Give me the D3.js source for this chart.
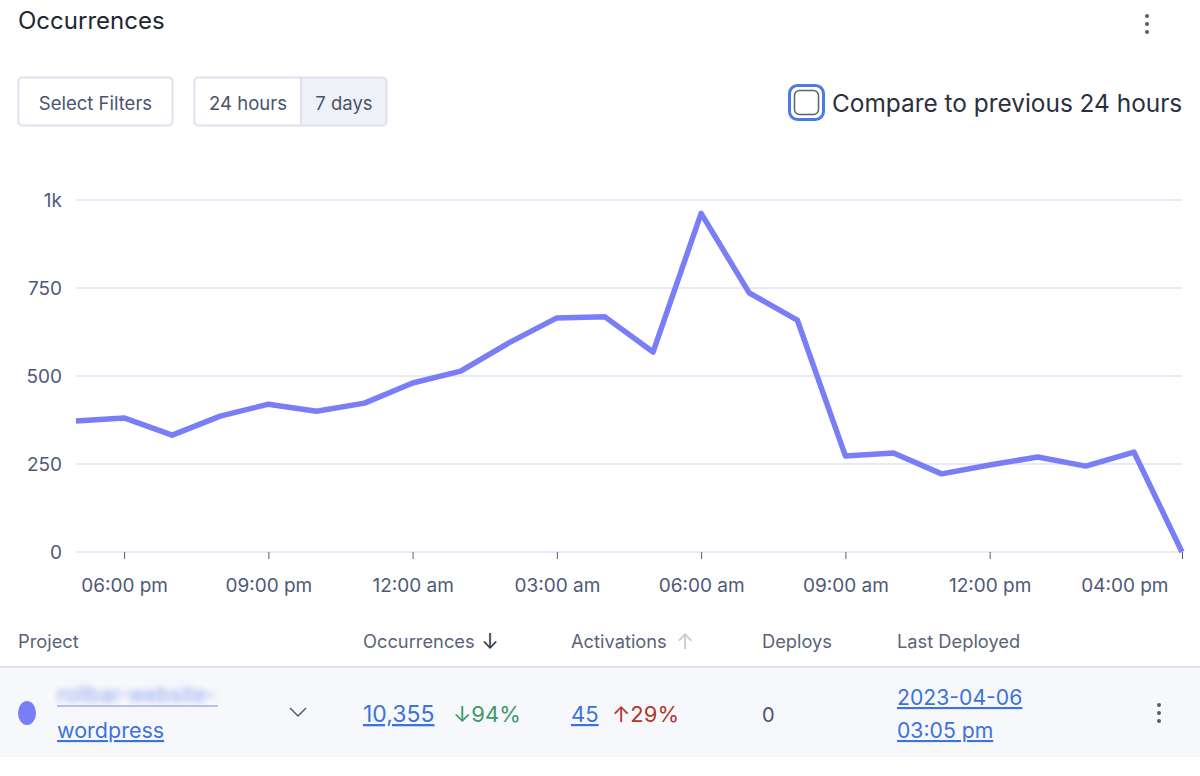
<!DOCTYPE html>
<html>
<head>
<meta charset="utf-8">
<script src="https://cdn.jsdelivr.net/npm/d3@7"></script>
<style>
  html, body { margin: 0; padding: 0; background: #fff; }
  svg { display: block; font-family: Inter, "Noto Sans", sans-serif; }
</style>
</head>
<body>
<div id="chart"></div>
<script>
// hourly occurrences, 5 pm -> 4 pm next day
var hours = d3.range(0, 24).map(function (i) { return new Date(2023, 3, 6, 17 + i); });
var occurrences = [372, 381, 332, 386, 420, 400, 423, 480, 514, 594, 665, 668,
                   568, 962, 736, 659, 273, 281, 222, 247, 270, 244, 284, 0];
var yTicks = [0, 250, 500, 750, 1000];
var yTickLabels = ['0', '250', '500', '750', '1k'];
var xTickIdx = [1, 4, 7, 10, 13, 16, 19, 23];
var xTickLabels = ['06:00 pm', '09:00 pm', '12:00 am', '03:00 am', '06:00 am', '09:00 am', '12:00 pm', '04:00 pm'];

var tableHeaders = ['Project', 'Occurrences', 'Activations', 'Deploys', 'Last Deployed'];

var W = 1200, H = 776;
var svg = d3.select('#chart').append('svg')
	.attr('width', W)
	.attr('height', H);

var defs = svg.append('defs');
defs.append('filter').attr('id', 'blur')
	.append('feGaussianBlur').attr('stdDeviation', 3);

// header
svg.append('text').attr('x', 18).attr('y', 29)
	.attr('font-size', 24).attr('fill', '#222633').text('Occurrences');

function kebab(cx, cy, gap) {
	svg.append('g').selectAll('circle')
		.data([-1, 0, 1]).enter().append('circle')
		.attr('cx', cx).attr('cy', function (d) { return cy + d * gap; })
		.attr('r', 2).attr('fill', '#555b6b');
}
kebab(1147, 24, 8);

// buttons
svg.append('rect').attr('x', 18.5).attr('y', 77.5).attr('width', 154).attr('height', 48)
	.attr('rx', 4).attr('fill', '#fff').attr('stroke', '#dde1ec').attr('stroke-width', 2);
svg.append('text').attr('x', 95.5).attr('y', 110).attr('text-anchor', 'middle')
	.attr('font-size', 18.5).attr('fill', '#4a536b').text('Select Filters');

svg.append('rect').attr('x', 301).attr('y', 78).attr('width', 86).attr('height', 47)
	.attr('fill', '#eef1f8');
svg.append('rect').attr('x', 194.5).attr('y', 77.5).attr('width', 192).attr('height', 48)
	.attr('rx', 4).attr('fill', 'none').attr('stroke', '#dde1ec').attr('stroke-width', 2);
svg.append('line').attr('x1', 301).attr('x2', 301).attr('y1', 78).attr('y2', 125)
	.attr('stroke', '#dde1ec').attr('stroke-width', 2);
svg.append('text').attr('x', 248).attr('y', 110).attr('text-anchor', 'middle')
	.attr('font-size', 18.5).attr('fill', '#4a536b').text('24 hours');
svg.append('text').attr('x', 344).attr('y', 110).attr('text-anchor', 'middle')
	.attr('font-size', 18.5).attr('fill', '#4a536b').text('7 days');

// compare checkbox
svg.append('rect').attr('x', 789.5).attr('y', 85.5).attr('width', 34).attr('height', 34)
	.attr('rx', 8).attr('fill', 'none').attr('stroke', '#4a7be6').attr('stroke-width', 3);
svg.append('rect').attr('x', 794.5).attr('y', 90.5).attr('width', 24).attr('height', 24)
	.attr('rx', 5).attr('fill', '#fff').attr('stroke', '#5b6170').attr('stroke-width', 1.5);
svg.append('text').attr('x', 832).attr('y', 112)
	.attr('font-size', 24.4).attr('fill', '#2b3040').text('Compare to previous 24 hours');

// chart
var x = d3.scaleTime().domain(d3.extent(hours)).range([76, 1182]);
var y = d3.scaleLinear().domain([0, 1000]).range([552, 200]);

svg.append('g').selectAll('line')
	.data(yTicks).enter().append('line')
	.attr('x1', 76).attr('x2', 1182)
	.attr('y1', function (d) { return y(d); })
	.attr('y2', function (d) { return y(d); })
	.attr('stroke', '#dfe2f3').attr('stroke-width', 1.5);

svg.append('g').selectAll('text')
	.data(yTicks).enter().append('text')
	.attr('x', 62).attr('y', function (d) { return y(d) + 7; })
	.attr('text-anchor', 'end').attr('font-size', 19).attr('fill', '#4f5977')
	.text(function (d, i) { return yTickLabels[i]; });

var xAxis = d3.axisBottom(x)
	.tickValues(xTickIdx.map(function (i) { return hours[i]; }))
	.tickSize(7).tickPadding(20)
	.tickFormat(function (d, i) { return xTickLabels[i]; });

var gx = svg.append('g').attr('transform', 'translate(0,552)').call(xAxis);
gx.select('.domain').remove();
gx.selectAll('.tick line').attr('stroke', '#555b6b').attr('stroke-width', 1);
gx.selectAll('.tick text')
	.attr('font-family', 'Inter, "Noto Sans", sans-serif')
	.attr('font-size', 19).attr('fill', '#4f5977');
gx.selectAll('.tick text').filter(function (d, i) { return i === xTickIdx.length - 1; })
	.attr('text-anchor', 'end').attr('dx', -14);

var line = d3.line()
	.x(function (d, i) { return x(hours[i]); })
	.y(function (d) { return y(d); });

svg.append('path').datum(occurrences)
	.attr('d', line)
	.attr('fill', 'none')
	.attr('stroke', '#7a7ef6')
	.attr('stroke-width', 5.5)
	.attr('stroke-linejoin', 'round');

// table
var headerX = [18, 363, 571, 762, 897];
svg.append('g').selectAll('text')
	.data(tableHeaders).enter().append('text')
	.attr('x', function (d, i) { return headerX[i]; }).attr('y', 648)
	.attr('font-size', 18.3).attr('fill', '#5a6378')
	.text(function (d) { return d; });
svg.append('text').attr('x', 490).attr('y', 649).attr('text-anchor', 'middle')
	.attr('font-size', 21).attr('fill', '#333846').text('↓');
svg.append('text').attr('x', 685).attr('y', 649).attr('text-anchor', 'middle')
	.attr('font-size', 21).attr('fill', '#c4c9d6').text('↑');

svg.append('rect').attr('x', 0).attr('y', 668).attr('width', W).attr('height', 89)
	.attr('fill', '#f7f8fb');
svg.append('line').attr('x1', 0).attr('x2', W).attr('y1', 667).attr('y2', 667)
	.attr('stroke', '#e1e4ec').attr('stroke-width', 2);

svg.append('ellipse').attr('cx', 27).attr('cy', 713).attr('rx', 9).attr('ry', 12)
	.attr('fill', '#7a7ef6');

svg.append('text').attr('x', 57).attr('y', 702).attr('font-size', 21)
	.attr('fill', '#8ea4ef').attr('filter', 'url(#blur)').text('rollbar-website-');
svg.append('line').attr('x1', 57).attr('x2', 218).attr('y1', 706).attr('y2', 706)
	.attr('stroke', '#9eb0ee').attr('stroke-width', 1.5);

var linkBlue = '#3d73dc';
function link(tx, ty, str, fs) {
	return svg.append('text').attr('x', tx).attr('y', ty)
		.attr('font-size', fs).attr('fill', linkBlue)
		.attr('text-decoration', 'underline').text(str);
}
link(57, 738, 'wordpress', 21.5);
link(363, 722, '10,355', 23);
link(571, 722, '45', 22);
link(897, 705, '2023-04-06', 21.2);
link(897, 738, '03:05 pm', 21.2);

svg.append('path').attr('d', 'M290,708 L298,716 L306,708')
	.attr('fill', 'none').attr('stroke', '#555b6b').attr('stroke-width', 1.5);

svg.append('text').attr('x', 453).attr('y', 722).attr('font-size', 22)
	.attr('fill', '#3c9a6a').text('↓94%');
svg.append('text').attr('x', 612).attr('y', 722).attr('font-size', 22)
	.attr('fill', '#b3372b').text('↑29%');
svg.append('text').attr('x', 762).attr('y', 722).attr('font-size', 20)
	.attr('fill', '#4a536b').text('0');

kebab(1159, 713, 8);
</script>
</body>
</html>
